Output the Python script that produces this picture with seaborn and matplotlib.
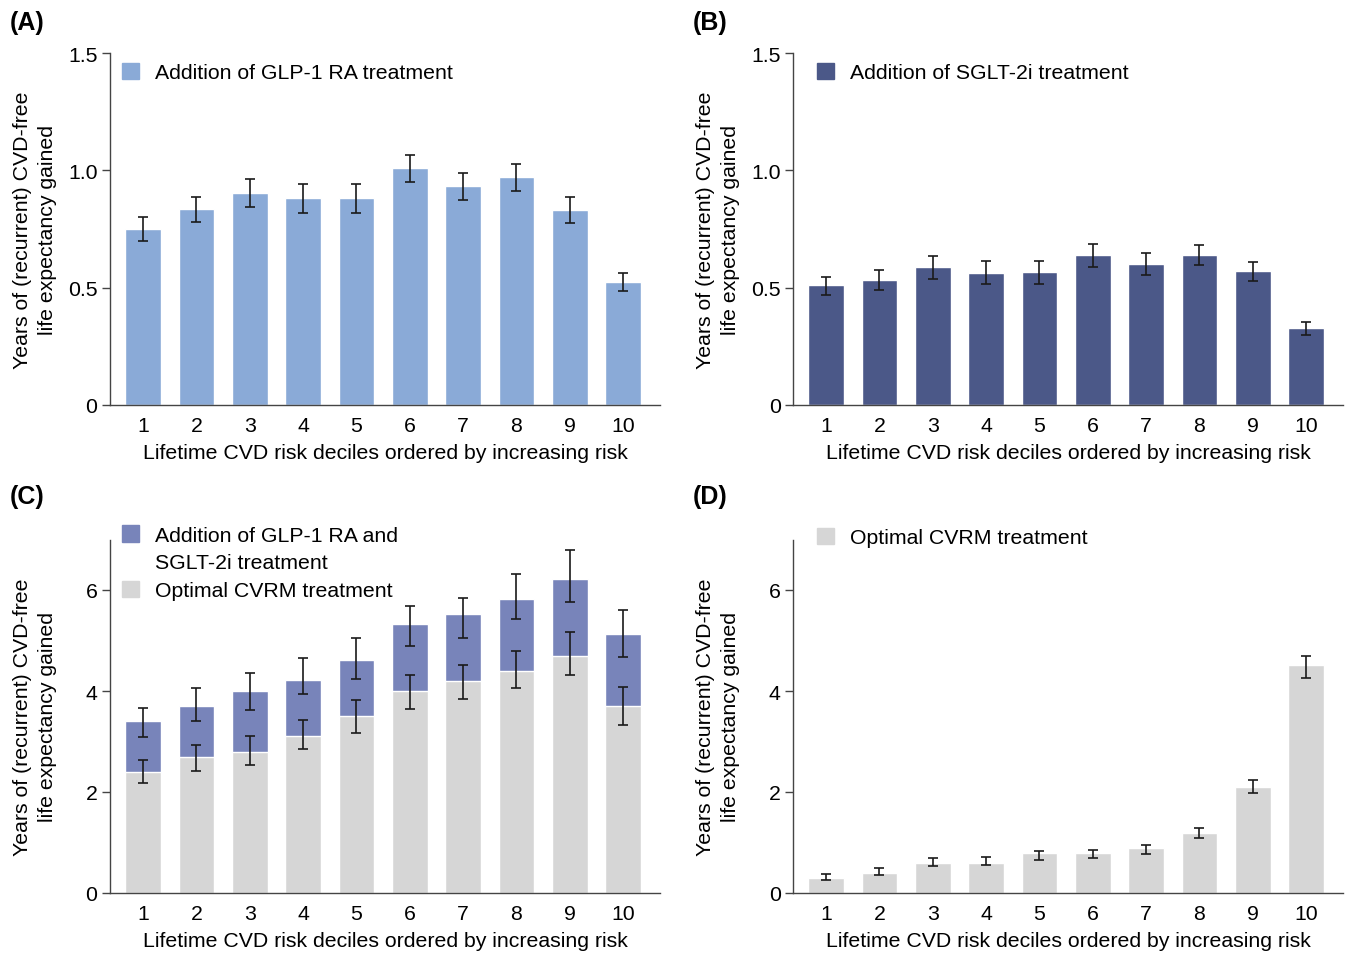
import numpy as np
import pandas as pd
import matplotlib.pyplot as plt
from matplotlib.patches import Patch
import seaborn as sb

deciles = ["1", "2", "3", "4", "5", "6", "7", "8", "9", "10"]

# (A) GLP-1 RA
glp1 = [0.75, 0.835, 0.903, 0.882, 0.882, 1.01, 0.933, 0.971, 0.831, 0.523]
glp1_lo = [0.70, 0.78, 0.842, 0.82, 0.82, 0.95, 0.873, 0.913, 0.777, 0.484]
glp1_hi = [0.80, 0.888, 0.964, 0.94, 0.94, 1.066, 0.99, 1.028, 0.886, 0.564]

# (B) SGLT-2i
sglt2 = [0.511, 0.533, 0.588, 0.562, 0.567, 0.639, 0.601, 0.639, 0.571, 0.328]
sglt2_lo = [0.470, 0.489, 0.538, 0.514, 0.517, 0.588, 0.555, 0.595, 0.528, 0.297]
sglt2_hi = [0.547, 0.576, 0.635, 0.612, 0.615, 0.686, 0.646, 0.683, 0.611, 0.355]

# (C) optimal CVRM + GLP-1 RA and SGLT-2i (stacked total)
opt_c = [2.40, 2.69, 2.79, 3.11, 3.50, 4.00, 4.20, 4.40, 4.69, 3.70]
opt_c_lo = [2.18, 2.41, 2.53, 2.86, 3.17, 3.65, 3.85, 4.05, 4.31, 3.32]
opt_c_hi = [2.64, 2.93, 3.11, 3.43, 3.83, 4.32, 4.52, 4.79, 5.16, 4.08]
total_c = [3.41, 3.70, 4.00, 4.22, 4.61, 5.33, 5.52, 5.82, 6.22, 5.13]
total_c_lo = [3.09, 3.40, 3.63, 3.94, 4.23, 4.89, 5.05, 5.43, 5.76, 4.68]
total_c_hi = [3.66, 4.05, 4.36, 4.65, 5.05, 5.69, 5.85, 6.31, 6.79, 5.61]

# (D) optimal CVRM
opt_d = [0.30, 0.40, 0.59, 0.59, 0.79, 0.79, 0.89, 1.19, 2.10, 4.51]
opt_d_lo = [0.26, 0.36, 0.53, 0.55, 0.65, 0.69, 0.78, 1.09, 1.98, 4.26]
opt_d_hi = [0.38, 0.50, 0.70, 0.72, 0.83, 0.86, 0.95, 1.29, 2.24, 4.69]

c_glp = "#8aaad7"
c_sglt = "#4b5888"
c_both = "#7884ba"
c_opt = "#d6d6d6"

FS = 15.3

sb.set_style("ticks")
plt.rcParams["font.family"] = ["Liberation Sans", "DejaVu Sans"]
plt.rcParams["font.size"] = FS
plt.rcParams["text.color"] = "black"
plt.rcParams["axes.labelcolor"] = "black"
plt.rcParams["xtick.labelcolor"] = "black"
plt.rcParams["ytick.labelcolor"] = "black"

fig = plt.figure(figsize=(13.46, 9.54), dpi=100)
W, H = 1346, 954


def make_ax(left, top, bottom):
    return fig.add_axes([left / W, (H - bottom) / H, 550 / W, (bottom - top) / H])


def errbars(ax, val, lo, hi):
    val = np.array(val)
    yerr = [val - np.array(lo), np.array(hi) - val]
    ax.errorbar(np.arange(len(val)), val, yerr=yerr, fmt="none", ecolor="#1a1a1a",
                elinewidth=1.2, capsize=3.6, capthick=1.2, zorder=5)


def style(ax, ymax, ticks, ticklabels):
    ax.set_ylim(0, ymax)
    ax.set_xlim(-0.62, 9.69)
    ax.set_yticks(ticks)
    ax.set_yticklabels(ticklabels)
    sb.despine(ax=ax)
    for s in ["left", "bottom"]:
        ax.spines[s].set_color("#444444")
        ax.spines[s].set_linewidth(1.0)
    ax.tick_params(axis="y", length=6, width=1.0, color="#444444", pad=3, labelsize=FS)
    ax.tick_params(axis="x", length=0, pad=8, labelsize=FS)
    ax.set_xlabel("Lifetime CVD risk deciles ordered by increasing risk", fontsize=FS, labelpad=6)
    ax.set_ylabel("Years of (recurrent) CVD-free\nlife expectancy gained", fontsize=FS,
                  linespacing=1.35)
    ax.yaxis.set_label_coords(-0.097, 0.5)


leg_kw = dict(frameon=False, fontsize=FS, handlelength=0.8, handleheight=0.8,
              handletextpad=0.75, borderpad=0, borderaxespad=0, labelspacing=0.38, loc="upper left")
blank = Patch(facecolor="none", edgecolor="none")

# (A)
ax = make_ax(110, 54, 406)
sb.barplot(x=deciles, y=glp1, color=c_glp, width=0.67, saturation=1, ax=ax)
errbars(ax, glp1, glp1_lo, glp1_hi)
style(ax, 1.5, [0, 0.5, 1.0, 1.5], ["0", "0.5", "1.0", "1.5"])
ax.legend(handles=[Patch(color=c_glp, label="Addition of GLP-1 RA treatment")],
          bbox_to_anchor=(0.022, 0.973), **leg_kw)

# (B)
ax = make_ax(793, 54, 406)
sb.barplot(x=deciles, y=sglt2, color=c_sglt, width=0.67, saturation=1, ax=ax)
errbars(ax, sglt2, sglt2_lo, sglt2_hi)
style(ax, 1.5, [0, 0.5, 1.0, 1.5], ["0", "0.5", "1.0", "1.5"])
ax.legend(handles=[Patch(color=c_sglt, label="Addition of SGLT-2i treatment")],
          bbox_to_anchor=(0.044, 0.973), **leg_kw)

# (C)
ax = make_ax(110, 540.5, 894)
sb.barplot(x=deciles, y=total_c, color=c_both, width=0.67, saturation=1, ax=ax)
sb.barplot(x=deciles, y=opt_c, color=c_opt, width=0.67, saturation=1, ax=ax)
errbars(ax, total_c, total_c_lo, total_c_hi)
errbars(ax, opt_c, opt_c_lo, opt_c_hi)
style(ax, 7, [0, 2, 4, 6], ["0", "2", "4", "6"])
ax.legend(handles=[Patch(color=c_both), blank, Patch(color=c_opt)],
          labels=["Addition of GLP-1 RA and", "SGLT-2i treatment", "Optimal CVRM treatment"],
          bbox_to_anchor=(0.022, 1.04), **leg_kw)

# (D)
ax = make_ax(793, 540.5, 894)
sb.barplot(x=deciles, y=opt_d, color=c_opt, width=0.67, saturation=1, ax=ax)
errbars(ax, opt_d, opt_d_lo, opt_d_hi)
style(ax, 7, [0, 2, 4, 6], ["0", "2", "4", "6"])
ax.legend(handles=[Patch(color=c_opt, label="Optimal CVRM treatment")],
          bbox_to_anchor=(0.044, 1.033), **leg_kw)

for lab, x, y in [("(A)", 10, 23), ("(B)", 693, 23), ("(C)", 10, 497), ("(D)", 693, 497)]:
    fig.text(x / W, 1 - y / H, lab, fontsize=18, fontweight="bold", ha="left", va="center")

fig.savefig("out.png", dpi=100)
